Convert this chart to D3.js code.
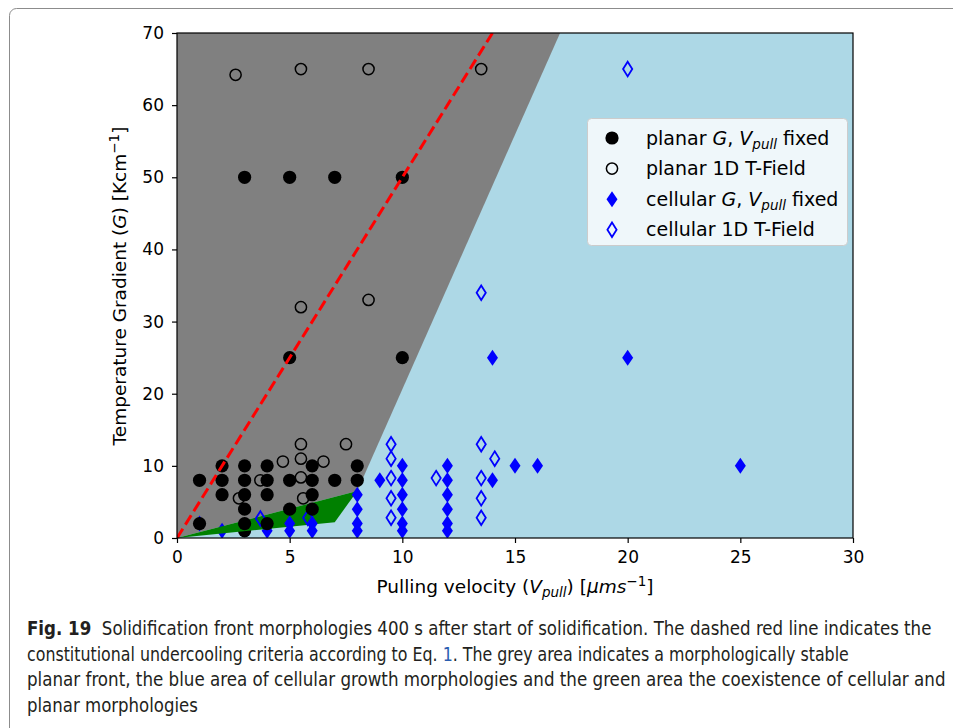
<!DOCTYPE html>
<meta charset="utf-8">
<head>
<style>
body { margin: 0; background: #fff; }
svg text { font-family: "DejaVu Sans", sans-serif; fill: #000; }
.tick line { stroke: #000; stroke-width: 1.2; }
.legend text { font-size: 19px; }
.caption { font-family: "Liberation Sans Narrow", "DejaVu Sans Condensed", sans-serif; font-size: 20px; fill: #231f20; }
</style>
</head>
<body>
<script src="https://cdn.jsdelivr.net/npm/d3@7"></script>
<script>

// series values, [V_pull, G]
var planarFixed = [[3,50],[5,50],[7,50],[10,50],[5,25],[10,25],
    [2,10],[3,10],[4,10],[6,10],[8,10],
    [1,8],[2,8],[3,8],[4,8],[5,8],[6,8],[7,8],[8,8],
    [2,6],[3,6],[4,6],[6,6],
    [3,4],[5,4],[6,4],
    [1,2],[3,2],[4,2],[3,1]];
var planarField = [[2.6,64.2],[5.5,65],[8.5,65],[13.5,65],[5.5,32],[8.5,33],
    [5.5,13],[7.5,13],[4.7,10.6],[5.5,11],[6.5,10.6],[3.7,8],[5.5,8.4],[2.75,5.5],[5.6,5.5]];
var cellularFixed = [[14,25],[20,25],[25,10],[15,10],[16,10],[14,8],[9,8],
    [10,10],[10,8],[10,6],[10,4],[10,2],[10,1],
    [12,10],[12,8],[12,6],[12,4],[12,2],[12,1],
    [8,6],[8,4],[8,2],[8,1],
    [1,2],[2,1],[4,1],[5,2],[5,1],[6,2],[6,1]];
var cellularField = [[20,65],[13.5,34],[9.5,13],[9.5,11],[9.5,8.3],[9.5,5.5],[9.5,2.8],
    [11.5,8.3],[13.5,13],[14.1,11],[13.5,8.3],[13.5,5.5],[13.5,2.8],[3.7,2.7],[5.8,2.8]];

// regions and criterion line
var greyRegion = [[0,0],[0,70],[17,70],[8,6.5]];
var greenRegion = [[0,0],[8,6.5],[7,2.2]];
var criterion = [[0,0],[14,70]];

var xTicks = [0,5,10,15,20,25,30];
var yTicks = [0,10,20,30,40,50,60,70];
var legendLabels = ["planar", "planar 1D T-Field", "cellular", "cellular 1D T-Field"];

// caption lines, each a list of [text, bold, colour]
var captionLines = [
  [["Fig. 19", true, null], ["  Solidification front morphologies 400 s after start of solidification. The dashed red line indicates the", false, null]],
  [["constitutional undercooling criteria according to Eq. ", false, null], ["1", false, "#2a5db0"], [". The grey area indicates a morphologically stable", false, null]],
  [["planar front, the blue area of cellular growth morphologies and the green area the coexistence of cellular and", false, null]],
  [["planar morphologies", false, null]]
];
var captionEnds = [932, 849, 946, 198];
var captionY = [635, 661, 686, 712];

var W = 953, H = 728;
var plot = {left: 177, right: 853, top: 33, bottom: 538};

var svg = d3.select("body").append("svg")
    .attr("width", W)
    .attr("height", H);

// frame round the figure
svg.append("rect")
    .attr("x", 9.5).attr("y", 8.5)
    .attr("width", 1000).attr("height", 1000)
    .attr("rx", 7)
    .attr("fill", "none")
    .attr("stroke", "#8c8c8c")
    .attr("stroke-width", 1);

var x = d3.scaleLinear().domain([0, 30]).range([plot.left, plot.right]);
var y = d3.scaleLinear().domain([0, 70]).range([plot.bottom, plot.top]);

svg.append("clipPath").attr("id", "clip")
  .append("rect")
    .attr("x", plot.left).attr("y", plot.top)
    .attr("width", plot.right - plot.left)
    .attr("height", plot.bottom - plot.top);

var g = svg.append("g").attr("clip-path", "url(#clip)");

g.append("rect")
    .attr("x", plot.left).attr("y", plot.top)
    .attr("width", plot.right - plot.left)
    .attr("height", plot.bottom - plot.top)
    .attr("fill", "#add8e6");

var poly = function(pts) {
    return "M" + pts.map(function(d) { return x(d[0]) + "," + y(d[1]); }).join("L") + "Z";
};

g.append("path").attr("d", poly(greyRegion)).attr("fill", "#808080");

var diamond = "M0,-8L5.5,0L0,8L-5.5,0Z";
var diamondOpen = "M0,-7.3L4.6,0L0,7.3L-4.6,0Z";

var drawPoints = function(layer, filter) {
    layer.selectAll(null)
        .data(cellularFixed.filter(filter)).enter()
        .append("path")
        .attr("d", diamond)
        .attr("transform", function(d) { return "translate(" + x(d[0]) + "," + y(d[1]) + ")"; })
        .attr("fill", "#0000ff");
    layer.selectAll(null)
        .data(cellularField.filter(filter)).enter()
        .append("path")
        .attr("d", diamondOpen)
        .attr("transform", function(d) { return "translate(" + x(d[0]) + "," + y(d[1]) + ")"; })
        .attr("fill", "none")
        .attr("stroke", "#0000ff")
        .attr("stroke-width", 1.8);
    layer.selectAll(null)
        .data(planarField.filter(filter)).enter()
        .append("circle")
        .attr("cx", function(d) { return x(d[0]); })
        .attr("cy", function(d) { return y(d[1]); })
        .attr("r", 5.6)
        .attr("fill", "none")
        .attr("stroke", "#000")
        .attr("stroke-width", 1.5);
    layer.selectAll(null)
        .data(planarFixed.filter(filter)).enter()
        .append("circle")
        .attr("cx", function(d) { return x(d[0]); })
        .attr("cy", function(d) { return y(d[1]); })
        .attr("r", 6.6)
        .attr("fill", "#000");
};

// the G = 1 runs sit under the green area
drawPoints(g.append("g"), function(d) { return d[1] <= 1; });
g.append("path").attr("d", poly(greenRegion)).attr("fill", "#008000");
drawPoints(g.append("g"), function(d) { return d[1] > 1; });

g.append("line")
    .attr("x1", x(criterion[0][0])).attr("y1", y(criterion[0][1]))
    .attr("x2", x(criterion[1][0])).attr("y2", y(criterion[1][1]))
    .attr("stroke", "#ff0000")
    .attr("stroke-width", 3)
    .attr("stroke-dasharray", "11,4.8");

// axes
var xAxis = svg.append("g")
    .attr("transform", "translate(0," + plot.bottom + ")")
    .call(d3.axisBottom(x).tickValues(xTicks).tickSize(5).tickPadding(8));
var yAxis = svg.append("g")
    .attr("transform", "translate(" + plot.left + ",0)")
    .call(d3.axisLeft(y).tickValues(yTicks).tickSize(5).tickPadding(8));
xAxis.select(".domain").remove();
yAxis.select(".domain").remove();
svg.selectAll(".tick text").attr("font-family", "DejaVu Sans").attr("font-size", 17);

svg.append("rect")
    .attr("x", plot.left).attr("y", plot.top)
    .attr("width", plot.right - plot.left)
    .attr("height", plot.bottom - plot.top)
    .attr("fill", "none")
    .attr("stroke", "#000")
    .attr("stroke-width", 1.2);

// axis titles
var xt = svg.append("text")
    .attr("x", 515).attr("y", 593)
    .attr("text-anchor", "middle")
    .attr("font-size", 18.5);
xt.append("tspan").text("Pulling velocity (");
xt.append("tspan").attr("font-style", "italic").text("V");
xt.append("tspan").attr("font-style", "italic").attr("font-size", 13.5).attr("dy", 4).text("pull");
xt.append("tspan").attr("dy", -4).text(") [");
xt.append("tspan").attr("font-style", "italic").text("μms");
xt.append("tspan").attr("font-size", 13.5).attr("dy", -7.5).text("−1");
xt.append("tspan").attr("dy", 7.5).text("]");

var yt = svg.append("text")
    .attr("transform", "translate(126,286) rotate(-90)")
    .attr("text-anchor", "middle")
    .attr("font-size", 18.5);
yt.append("tspan").text("Temperature Gradient (");
yt.append("tspan").attr("font-style", "italic").text("G");
yt.append("tspan").text(") [Kcm");
yt.append("tspan").attr("font-size", 13.5).attr("dy", -7.5).text("−1");
yt.append("tspan").attr("dy", 7.5).text("]");

// legend
var legend = svg.append("g").attr("class", "legend");
legend.append("rect")
    .attr("x", 587.5).attr("y", 118.5)
    .attr("width", 260).attr("height", 127)
    .attr("rx", 4)
    .attr("fill", "rgba(255,255,255,0.8)")
    .attr("stroke", "#cccccc");

var rowY = function(i) { return 138 + i * 30.6; };
legend.append("circle").attr("cx", 612).attr("cy", rowY(0)).attr("r", 6.6).attr("fill", "#000");
legend.append("circle").attr("cx", 612).attr("cy", rowY(1)).attr("r", 5.6)
    .attr("fill", "none").attr("stroke", "#000").attr("stroke-width", 1.5);
legend.append("path").attr("d", diamond)
    .attr("transform", "translate(612," + rowY(2) + ")").attr("fill", "#0000ff");
legend.append("path").attr("d", diamondOpen)
    .attr("transform", "translate(612," + rowY(3) + ")")
    .attr("fill", "none").attr("stroke", "#0000ff").attr("stroke-width", 1.8);

legendLabels.forEach(function(lab, i) {
    var t = legend.append("text").attr("x", 646).attr("y", rowY(i) + 6.5);
    t.append("tspan").text(lab);
    if (i == 0 || i == 2) {
        t.append("tspan").attr("font-style", "italic").text(" G");
        t.append("tspan").text(", ");
        t.append("tspan").attr("font-style", "italic").text("V");
        t.append("tspan").attr("font-style", "italic").attr("font-size", 13.5).attr("dy", 4).text("pull");
        t.append("tspan").attr("dy", -4).text(" fixed");
    }
});

// caption: pieces laid side by side, each line scaled to its width in the figure
captionLines.forEach(function(parts, i) {
    var line = svg.append("g");
    var cx = 0;
    parts.forEach(function(p) {
        var t = line.append("text")
            .attr("class", "caption")
            .attr("x", cx).attr("y", 0)
            .attr("xml:space", "preserve")
            .style("white-space", "pre")
            .attr("font-weight", p[1] ? "bold" : null)
            .text(p[0]);
        if (p[2]) t.style("fill", p[2]);
        cx += t.node().getComputedTextLength();
    });
    var sx = (captionEnds[i] - 27) / cx;
    line.attr("transform", "translate(27," + captionY[i] + ") scale(" + sx + ",1)");
});

</script>
</body>
